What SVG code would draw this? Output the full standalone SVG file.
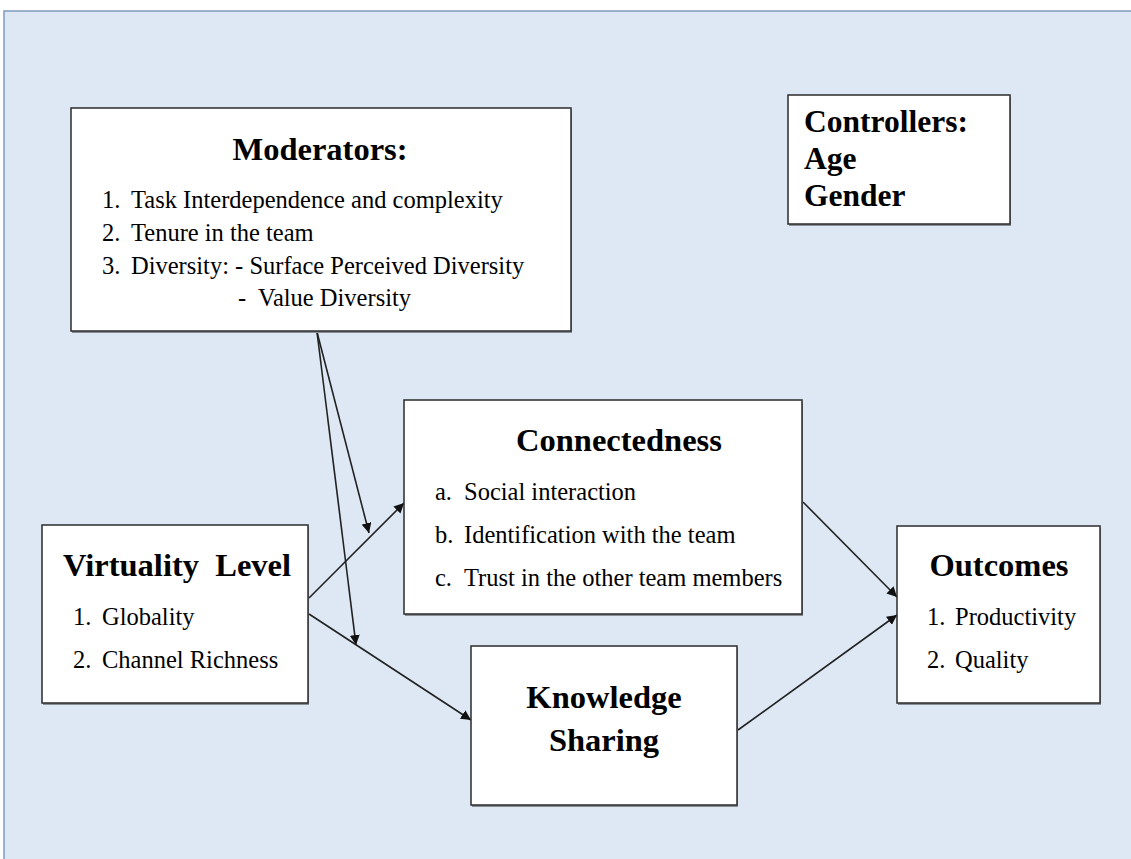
<svg xmlns="http://www.w3.org/2000/svg" width="1131" height="859" viewBox="0 0 1131 859">
<style>
.box{fill:#ffffff;stroke:#2b2b2b;stroke-width:1.5}
.sh{fill:#8a8f96}
.t{font-family:"Liberation Serif","Times New Roman",serif;font-weight:bold;font-size:32.5px;fill:#000}
.i{font-family:"Liberation Serif","Times New Roman",serif;font-size:24.5px;fill:#000}
.c{stroke:#222;stroke-width:1.6;fill:none;marker-end:url(#ah)}
</style>
<defs>
<marker id="ah" viewBox="0 0 10 10" refX="10" refY="5" markerWidth="10" markerHeight="10" markerUnits="userSpaceOnUse" orient="auto">
<path d="M0,0 L10,5 L0,10 z" fill="#111"/>
</marker>
</defs>
<rect x="0" y="0" width="1131" height="859" fill="#ffffff"/>
<rect x="4" y="11" width="1130" height="850" fill="#dde8f4" stroke="#7f9bbd" stroke-width="1.5"/>
<g id="connectors">
<line class="c" x1="317" y1="332" x2="369" y2="533"/>
<line class="c" x1="317" y1="332" x2="356" y2="645"/>
<line class="c" x1="309" y1="598" x2="404" y2="503"/>
<line class="c" x1="309" y1="614" x2="471" y2="720"/>
<line class="c" x1="803" y1="502" x2="897" y2="597"/>
<line class="c" x1="738" y1="730" x2="897" y2="615"/>
</g>
<g id="moderators">
<rect class="sh" x="72" y="110" width="500" height="223"/>
<rect class="box" x="71" y="108" width="500" height="223"/>
<text class="t" x="320" y="160" text-anchor="middle">Moderators:</text>
<text class="i" x="102" y="208">1.</text><text class="i" x="131" y="208">Task Interdependence and complexity</text>
<text class="i" x="102" y="241">2.</text><text class="i" x="131" y="241">Tenure in the team</text>
<text class="i" x="102" y="274">3.</text><text class="i" x="131" y="274">Diversity: - Surface Perceived Diversity</text>
<text class="i" x="238" y="306" xml:space="preserve">-  Value Diversity</text>
</g>
<g id="controllers">
<rect class="sh" x="789" y="97" width="222" height="129"/>
<rect class="box" x="788" y="95" width="222" height="129"/>
<text class="t" x="804" y="132" style="font-size:31.5px">Controllers:</text>
<text class="t" x="804" y="169" style="font-size:31.5px">Age</text>
<text class="t" x="804" y="206" style="font-size:31.5px">Gender</text>
</g>
<g id="connectedness">
<rect class="sh" x="405" y="402" width="398" height="214"/>
<rect class="box" x="404" y="400" width="398" height="214"/>
<text class="t" x="619" y="451" text-anchor="middle">Connectedness</text>
<text class="i" x="435" y="500">a.</text><text class="i" x="464" y="500">Social interaction</text>
<text class="i" x="435" y="543">b.</text><text class="i" x="464" y="543">Identification with the team</text>
<text class="i" x="435" y="586">c.</text><text class="i" x="464" y="586">Trust in the other team members</text>
</g>
<g id="virtuality">
<rect class="sh" x="43" y="527" width="266" height="178"/>
<rect class="box" x="42" y="525" width="266" height="178"/>
<text class="t" x="63" y="576" xml:space="preserve">Virtuality  Level</text>
<text class="i" x="73" y="625">1.</text><text class="i" x="102" y="625">Globality</text>
<text class="i" x="73" y="668">2.</text><text class="i" x="102" y="668">Channel Richness</text>
</g>
<g id="knowledge">
<rect class="sh" x="472" y="648" width="266" height="159"/>
<rect class="box" x="471" y="646" width="266" height="159"/>
<text class="t" x="604" y="708" text-anchor="middle">Knowledge</text>
<text class="t" x="604" y="751" text-anchor="middle">Sharing</text>
</g>
<g id="outcomes">
<rect class="sh" x="898" y="528" width="203" height="177"/>
<rect class="box" x="897" y="526" width="203" height="177"/>
<text class="t" x="999" y="576" text-anchor="middle">Outcomes</text>
<text class="i" x="927" y="625">1.</text><text class="i" x="955" y="625">Productivity</text>
<text class="i" x="927" y="668">2.</text><text class="i" x="955" y="668">Quality</text>
</g>
</svg>
